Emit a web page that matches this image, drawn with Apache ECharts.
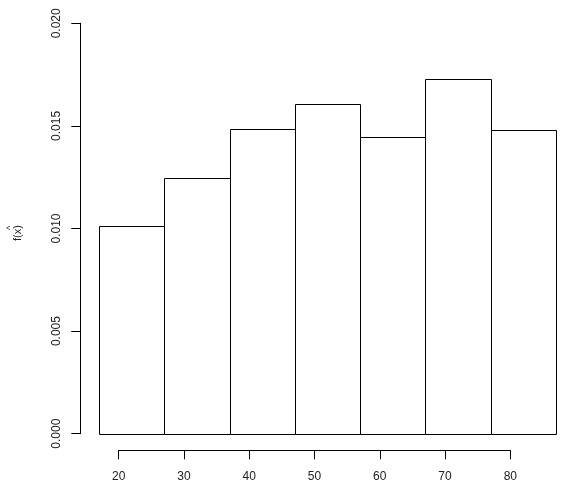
<!DOCTYPE html>
<html>
<head>
<meta charset="utf-8">
<script src="https://cdn.jsdelivr.net/npm/echarts@6/dist/echarts.min.js"></script>
<style>html,body{margin:0;padding:0;background:#fff}#c{width:585px;height:490px}</style>
</head>
<body>
<div id="c"></div>
<script>
var binEdges = [17, 27, 37, 47, 57, 67, 77, 87];
var densities = [0.01012, 0.01245, 0.01483, 0.01607, 0.01444, 0.01727, 0.01479];
var xTicks = [20, 30, 40, 50, 60, 70, 80];
var yTicks = ['0.000', '0.005', '0.010', '0.015', '0.020'];
var yTitle = 'f(x)';
var yTitleHat = '^';

var bars = densities.map(function (d, i) { return [binEdges[i], binEdges[i + 1], d]; });

var chart = echarts.init(document.getElementById('c'));
var fontFam = '"Liberation Sans", Arial, sans-serif';
chart.setOption({
  animation: false,
  backgroundColor: '#fff',
  grid: [
    {left: 80.8, right: 10.7, top: 6.9, bottom: 39.7},
    {left: 118.7, right: 74.7, top: 6.9, bottom: 39.7},
    {left: 80.3, right: 10.7, top: 23.3, bottom: 56.3}
  ],
  xAxis: [
    {gridIndex: 0, type: 'value', min: 14.2, max: 89.8, show: false},
    {gridIndex: 1, type: 'value', min: xTicks[0], max: xTicks[xTicks.length - 1], interval: 10,
     axisLine: {show: true, lineStyle: {color: '#000', width: 1}},
     axisTick: {show: true, length: 9, lineStyle: {color: '#000', width: 1}},
     axisLabel: {show: true, color: '#222', fontSize: 12, fontFamily: fontFam, margin: 20},
     splitLine: {show: false}},
    {gridIndex: 2, type: 'value', min: 0, max: 1, show: false}
  ],
  yAxis: [
    {gridIndex: 0, type: 'value', min: -0.0008, max: 0.0208, show: false},
    {gridIndex: 1, type: 'value', min: 0, max: 1, show: false},
    {gridIndex: 2, type: 'value', min: 0, max: 0.02, interval: 0.005,
     axisLine: {show: true, lineStyle: {color: '#000', width: 1}},
     axisTick: {show: true, length: 9, lineStyle: {color: '#000', width: 1}},
     axisLabel: {show: true, rotate: 90, color: '#222', fontSize: 12, fontFamily: fontFam, margin: 18,
       formatter: function (v) { return yTicks[Math.round(v / 0.005)]; }},
     splitLine: {show: false}}
  ],
  series: [{
    type: 'custom',
    xAxisIndex: 0, yAxisIndex: 0,
    data: bars,
    renderItem: function (params, api) {
      var p1 = api.coord([api.value(0), api.value(2)]);
      var p2 = api.coord([api.value(1), 0]);
      return {
        type: 'rect',
        shape: {x: Math.round(p1[0]) + 0.5, y: Math.round(p1[1]) + 0.5,
                width: Math.round(p2[0]) - Math.round(p1[0]), height: Math.round(p2[1]) - Math.round(p1[1])},
        style: {fill: '#fff', stroke: '#000', lineWidth: 1}
      };
    }
  }],
  graphic: [{
    type: 'text', x: 18, y: 233, rotation: Math.PI / 2,
    style: {text: yTitle, font: '11px "Liberation Sans", Arial, sans-serif', fill: '#222', align: 'center', verticalAlign: 'middle'}
  }, {
    type: 'text', x: 11, y: 228, rotation: Math.PI / 2,
    style: {text: yTitleHat, font: '9px "Liberation Sans", Arial, sans-serif', fill: '#222', align: 'center', verticalAlign: 'middle'}
  }]
});
</script>
</body>
</html>
